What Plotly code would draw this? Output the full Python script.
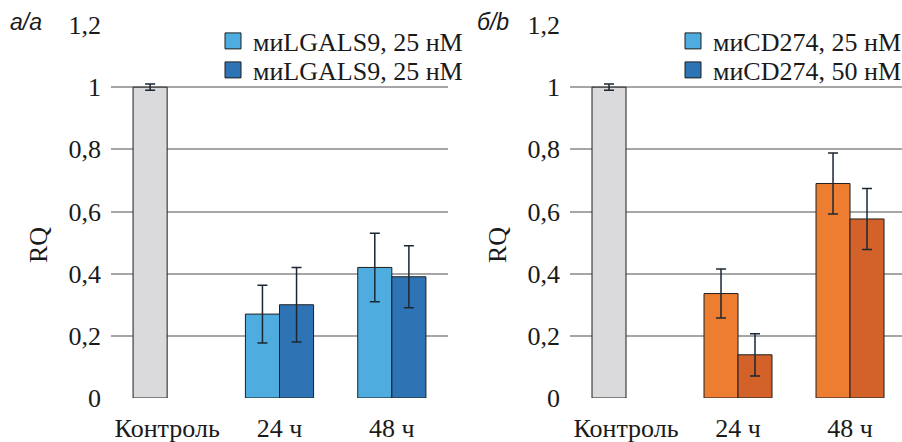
import plotly.graph_objects as go

categories = ["Контроль", "24 ч", "48 ч"]

# Panel a (LGALS9)
a_s1 = [1.0, 0.27, 0.42]
a_s1_err = [0.01, 0.093, 0.11]
a_s2 = [None, 0.30, 0.39]
a_s2_err = [0, 0.12, 0.10]
a_names = ["миLGALS9, 25 нМ", "миLGALS9, 25 нМ"]

# Panel b (CD274)
b_s1 = [1.0, 0.336, 0.69]
b_s1_err = [0.01, 0.079, 0.098]
b_s2 = [None, 0.139, 0.576]
b_s2_err = [0, 0.068, 0.098]
b_names = ["миCD274, 25 нМ", "миCD274, 50 нМ"]

y_ticks = [0, 0.2, 0.4, 0.6, 0.8, 1.0, 1.2]
y_ticklabels = ["0", "0,2", "0,4", "0,6", "0,8", "1", "1,2"]

GRAY = "#DADADC"
LBLUE = "#4FACDF"
DBLUE = "#2E74B5"
ORANGE = "#ED7D31"
DORANGE = "#D2622A"
OUTLINE = "#1f1f1f"
ERRC = "#1c2733"
TXT = "#1a1a1a"
SERIF = "Liberation Serif, Times New Roman, DejaVu Serif, serif"
FS = 26

W, H = 902, 442

fig = go.Figure()

def err(vals):
    return dict(type="data", array=vals, visible=True, color=ERRC, thickness=1.5, width=5)

def legend_swatch(name, color, legend_id, xa, ya):
    return go.Scatter(x=[None], y=[None], mode="markers", name=name, legend=legend_id,
                      marker=dict(symbol="square", size=16, color=color,
                                  line=dict(color=OUTLINE, width=1)),
                      xaxis=xa, yaxis=ya, hoverinfo="skip")

# Panel a bars
fig.add_trace(go.Bar(x=categories, y=a_s1, error_y=err(a_s1_err), offsetgroup="1",
                     marker=dict(color=[GRAY, LBLUE, LBLUE], line=dict(color=OUTLINE, width=1)),
                     showlegend=False, xaxis="x", yaxis="y"))
fig.add_trace(go.Bar(x=categories, y=a_s2, error_y=err(a_s2_err), offsetgroup="2",
                     marker=dict(color=DBLUE, line=dict(color=OUTLINE, width=1)),
                     showlegend=False, xaxis="x", yaxis="y"))

# Panel b bars
fig.add_trace(go.Bar(x=categories, y=b_s1, error_y=err(b_s1_err), offsetgroup="1",
                     marker=dict(color=[GRAY, ORANGE, ORANGE], line=dict(color=OUTLINE, width=1)),
                     showlegend=False, xaxis="x2", yaxis="y2"))
fig.add_trace(go.Bar(x=categories, y=b_s2, error_y=err(b_s2_err), offsetgroup="2",
                     marker=dict(color=DORANGE, line=dict(color=OUTLINE, width=1)),
                     showlegend=False, xaxis="x2", yaxis="y2"))

# Legend entries (the original shows blue swatches in both panels)
fig.add_trace(legend_swatch(a_names[0], LBLUE, "legend", "x", "y"))
fig.add_trace(legend_swatch(a_names[1], DBLUE, "legend2", "x", "y"))
fig.add_trace(legend_swatch(b_names[0], LBLUE, "legend3", "x2", "y2"))
fig.add_trace(legend_swatch(b_names[1], DBLUE, "legend4", "x2", "y2"))

y0_px, ytop_px = 398, 25
ydom = [(H - y0_px) / H, (H - ytop_px) / H]

xaxis_common = dict(type="category", showgrid=False, zeroline=False, showline=False,
                    ticks="", tickfont=dict(family=SERIF, size=FS, color=TXT),
                    ticklabelstandoff=12, fixedrange=True)
yaxis_common = dict(range=[0, 1.2], tickvals=y_ticks, ticktext=y_ticklabels,
                    showgrid=True, gridcolor="#A6A6A6", gridwidth=1.5, zeroline=False,
                    showline=False, ticks="", ticklabelstandoff=9,
                    tickfont=dict(family=SERIF, size=FS, color=TXT), fixedrange=True)

def leg(xpx, ypx):
    return dict(x=xpx / W, y=(H - ypx) / H, xanchor="left", yanchor="middle",
                font=dict(family=SERIF, size=FS, color=TXT),
                bgcolor="rgba(0,0,0,0)", itemsizing="trace", borderwidth=0)

fig.update_layout(
    width=W, height=H,
    margin=dict(l=0, r=0, t=0, b=0, autoexpand=False),
    paper_bgcolor="white", plot_bgcolor="white",
    barmode="group", bargap=0.393, bargroupgap=0,
    xaxis=dict(domain=[111 / W, 448 / W], range=[-0.5, 2.5], anchor="y", **xaxis_common),
    yaxis=dict(domain=ydom, anchor="x", **yaxis_common),
    xaxis2=dict(domain=[570 / W, 1.0], range=[-0.5, 2.464], anchor="y2", **xaxis_common),
    yaxis2=dict(domain=ydom, anchor="x2", **yaxis_common),
    legend=leg(213, 41),
    legend2=leg(213, 70),
    legend3=leg(673, 41),
    legend4=leg(673, 70),
    annotations=[
        dict(text="<i>а/a</i>", x=8 / W, y=(H - 22) / H, xref="paper", yref="paper",
             xanchor="left", yanchor="middle", showarrow=False,
             font=dict(family="Liberation Sans, Arial, sans-serif", size=23, color=TXT)),
        dict(text="<i>б/b</i>", x=475 / W, y=(H - 22) / H, xref="paper", yref="paper",
             xanchor="left", yanchor="middle", showarrow=False,
             font=dict(family="Liberation Sans, Arial, sans-serif", size=23, color=TXT)),
        dict(text="RQ", x=38 / W, y=(H - 245) / H, xref="paper", yref="paper",
             xanchor="center", yanchor="middle", showarrow=False, textangle=-90,
             font=dict(family=SERIF, size=FS, color=TXT)),
        dict(text="RQ", x=497 / W, y=(H - 245) / H, xref="paper", yref="paper",
             xanchor="center", yanchor="middle", showarrow=False, textangle=-90,
             font=dict(family=SERIF, size=FS, color=TXT)),
    ],
)

fig.write_html("out.html")
